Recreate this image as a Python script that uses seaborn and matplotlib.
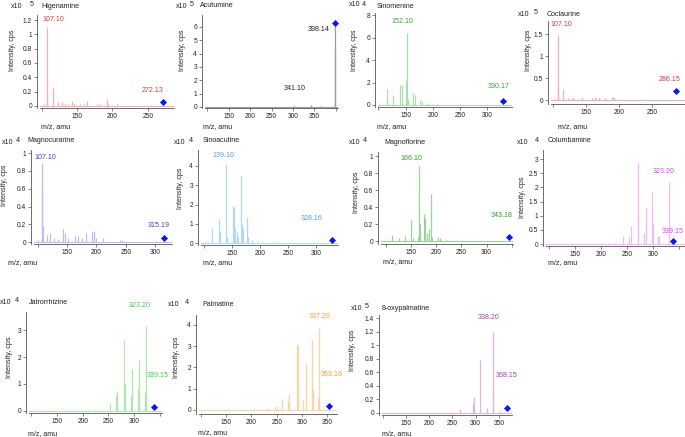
import matplotlib
matplotlib.use('Agg')
import matplotlib.pyplot as plt
import numpy as np
import pandas as pd
import seaborn as sns

sns.set_style('ticks')
plt.rcParams['font.family'] = ['Liberation Sans', 'DejaVu Sans']

W, H = 685, 437

# Peak lists (intensity in units of 10^exp cps)
HIG_MZ = [103, 107.1, 108, 115.6, 123.4, 128, 132.8, 137, 142.2, 145, 154.2, 160, 164.6, 178, 182.5, 192, 194, 206, 230, 255, 272.13]
HIG_INT = [0.02, 1.10, 0.1, 0.25, 0.05, 0.06, 0.03, 0.03, 0.07, 0.03, 0.02, 0.03, 0.07, 0.02, 0.02, 0.09, 0.03, 0.02, 0.01, 0.01, 0.01]
HIG_PREC = (272.13, 0.06)
HIG_LABELS = [107.10, 272.13]

ACU_MZ = [300, 305, 341.1, 363, 367, 380, 397.5, 398.14]
ACU_INT = [0.04, 0.05, 0.18, 0.04, 0.03, 0.03, 4.3, 6.1]
ACU_PREC = (398.14, 6.29)
ACU_LABELS = [398.14, 341.10]

SIN_MZ = [101, 115, 127.4, 139.7, 142.8, 150.2, 152.1, 154.5, 163.7, 167.3, 176.5, 180.2, 188.9, 198.6, 207.3]
SIN_INT = [0.1, 1.4, 0.92, 1.75, 1.8, 2.2, 6.45, 0.5, 1.1, 0.85, 0.4, 0.35, 0.2, 0.1, 0.05]
SIN_PREC = (330.17, 0.38)
SIN_LABELS = [152.10, 330.17]

COC_MZ = [102, 107.1, 108.2, 115.6, 123.2, 128.3, 132.3, 143.4, 158.6, 163.6, 169.6, 178.7, 188.8, 192.3, 204, 236.6]
COC_INT = [0.03, 1.48, 0.28, 0.26, 0.04, 0.05, 0.05, 0.08, 0.05, 0.06, 0.04, 0.05, 0.07, 0.08, 0.03, 0.02]
COC_PREC = (286.15, 0.21)
COC_LABELS = [107.10, 286.15]

MCU_MZ = [101.3, 107.1, 108.1, 109.3, 115.6, 121.2, 128, 135.3, 142.8, 146.7, 152.3, 163.7, 169.3, 175, 182.4, 192.1, 196, 199.4, 211.9, 240.3, 244.2]
MCU_INT = [0.02, 0.89, 0.6, 0.18, 0.08, 0.1, 0.05, 0.04, 0.15, 0.1, 0.05, 0.07, 0.07, 0.05, 0.1, 0.11, 0.13, 0.05, 0.05, 0.03, 0.02]
MCU_PREC = (315.19, 0.05)
MCU_LABELS = [107.10, 315.19]

SAC_MZ = [101.6, 114.6, 126.6, 128.4, 139.1, 141.4, 151.1, 152.9, 155.2, 158.3, 161.1, 165.4, 167.2, 169, 176.2, 179, 185.1, 195.1, 204.8, 223.7]
SAC_INT = [0.05, 0.8, 1.25, 0.6, 4.05, 0.3, 1.9, 1.85, 0.8, 0.6, 0.3, 3.5, 1.0, 0.75, 1.35, 0.3, 0.15, 0.08, 0.05, 0.03]
SAC_PREC = (328.16, 0.16)
SAC_LABELS = [139.10, 328.16]

MFL_MZ = [112, 127, 138.6, 150.5, 153.8, 163.7, 166.1, 168.3, 176.2, 178.2, 181.6, 186.7, 189.5, 192.7, 204.6, 208, 221]
MFL_INT = [0.07, 0.04, 0.06, 0.25, 0.04, 0.05, 0.88, 0.2, 0.32, 0.28, 0.1, 0.15, 0.56, 0.05, 0.05, 0.04, 0.02]
MFL_PREC = (343.18, 0.056)
MFL_LABELS = [166.10, 343.18]

COL_MZ = [214, 226.9, 242.9, 254.4, 257.7, 270.5, 271.7, 282.7, 285.9, 297.5, 299.4, 310.2, 312.1, 330.7]
COL_INT = [0.05, 0.05, 0.3, 0.25, 0.65, 1.0, 2.85, 0.4, 1.3, 1.85, 0.7, 0.3, 0.3, 2.2]
COL_PREC = (339.15, 0.107)
COL_LABELS = [323.20, 339.15]

JAT_MZ = [209.7, 223.9, 236.9, 253.1, 264.8, 267.3, 280.9, 282.9, 293.9, 296.5, 307, 308.9, 321.5, 323.2]
JAT_INT = [0.03, 0.05, 0.05, 0.3, 0.6, 0.7, 2.65, 1.0, 0.6, 1.55, 0.8, 1.9, 0.7, 3.15]
JAT_PREC = (339.15, 0.155)
JAT_LABELS = [323.20, 339.15]

PAL_MZ = [197.3, 220.4, 233.4, 246.6, 249.9, 261, 272.8, 274.2, 290.6, 292.6, 302.4, 307.1, 319, 321, 332, 334]
PAL_INT = [0.03, 0.03, 0.1, 0.15, 0.18, 0.5, 0.4, 0.75, 3.1, 3.0, 0.45, 2.2, 3.3, 1.0, 0.6, 3.85]
PAL_PREC = (353.16, 0.19)
PAL_LABELS = [337.20, 353.16]

OXY_MZ = [248.4, 266.3, 277, 295, 297, 309.3, 323.7, 336.8, 338.2, 352.4]
OXY_INT = [0.02, 0.06, 0.01, 0.15, 0.23, 0.78, 0.08, 0.3, 1.2, 0.03]
OXY_PREC = (368.15, 0.07)
OXY_LABELS = [338.20, 368.15]

NAMES = ['Higenamine', 'Acutumine', 'Sinomenine', 'Coclaurine', 'Magnocurarine',
         'Sinoacutine', 'Magnoflorine', 'Columbamine', 'Jatrorrhizine',
         'Palmatine', '8-oxypalmatine']
EXPONENTS = ['5', '5', '4', '5', '4', '4', '4', '4', '4', '4', '5']

# layout: data box in pixels (l, t, r, b), limits, y ticks, colours, text spots
panels = [
    dict(mz=HIG_MZ, it=HIG_INT, prec=HIG_PREC, lab=HIG_LABELS, lpos=[(116, 1.21), (257, 0.21)],
         box=(40, 15, 174, 108), xlim=(97.6, 287), ylim=(-0.03, 1.27), yt=np.arange(0, 1.21, 0.2),
         line='#f6b0b0', tc='#e8333a', hdr=(11, 6, 29.5, 4.5, 41, 6), xl=(41, 127), yl=(12, 50)),
    dict(mz=ACU_MZ, it=ACU_INT, prec=ACU_PREC, lab=ACU_LABELS, lpos=[(361, 5.78), (305, 1.42)],
         box=(205, 15, 338, 108), xlim=(95, 405), ylim=(-0.08, 6.9), yt=np.arange(0, 6.1, 1),
         line='#9c9c9c', tc='#222222', hdr=(176, 6, 189.5, 4.5, 200, 5.5), xl=(203, 127), yl=(182, 50)),
    dict(mz=SIN_MZ, it=SIN_INT, prec=SIN_PREC, lab=SIN_LABELS, lpos=[(144, 7.42), (322, 1.69)],
         box=(378, 13, 512, 107), xlim=(99.2, 346), ylim=(-0.18, 8.2), yt=np.arange(0, 8.1, 2),
         line='#acdcac', tc='#3a9e3a', hdr=(349, 5, 362, 4, 377, 6), xl=(377, 127), yl=(355, 50)),
    dict(mz=COC_MZ, it=COC_INT, prec=COC_PREC, lab=COC_LABELS, lpos=[(113.2, 1.71), (277, 0.47)],
         box=(551, 21, 685, 104), xlim=(97, 299.7), ylim=(-0.09, 1.8), yt=np.arange(0, 1.51, 0.5),
         line='#e8b0b6', tc='#c8404e', hdr=(518, 15, 534, 13, 547, 14), xl=(558, 127), yl=(528, 50)),
    dict(mz=MCU_MZ, it=MCU_INT, prec=MCU_PREC, lab=MCU_LABELS, lpos=[(114, 0.95), (306.6, 0.185)],
         box=(34, 150, 172, 244), xlim=(94, 328.7), ylim=(-0.02, 1.035), yt=np.arange(0, 1.01, 0.2),
         line='#bcbcf2', tc='#4040d8', hdr=(2, 142, 15.5, 140, 27, 141), xl=(8, 263), yl=(5, 185)),
    dict(mz=SAC_MZ, it=SAC_INT, prec=SAC_PREC, lab=SAC_LABELS, lpos=[(134.3, 4.53), (292.4, 1.25)],
         box=(201, 150, 338, 245), xlim=(94.4, 339.5), ylim=(-0.1, 4.83), yt=np.arange(0, 4.1, 1),
         line='#b0d8f6', tc='#4aa2e6', hdr=(174, 142, 188.5, 141, 203, 141), xl=(203, 263), yl=(180, 188)),
    dict(mz=MFL_MZ, it=MFL_INT, prec=MFL_PREC, lab=MFL_LABELS, lpos=[(151.8, 0.97), (330, 0.30)],
         box=(381, 152, 513, 244), xlim=(91, 352), ylim=(-0.03, 1.05), yt=np.arange(0, 1.01, 0.2),
         line='#98d498', tc='#2e9e2e', hdr=(349, 142, 363, 141, 384, 142), xl=(383, 262), yl=(356, 192)),
    dict(mz=COL_MZ, it=COL_INT, prec=COL_PREC, lab=COL_LABELS, lpos=[(319.8, 2.56), (337, 0.435)],
         box=(546, 150, 685, 246), xlim=(94.2, 361.5), ylim=(-0.07, 3.32), yt=np.arange(0, 3.01, 0.5),
         line='#f4b8f4', tc='#e448e4', hdr=(517, 142, 535, 140, 548, 141), xl=(548, 263), yl=(522, 197)),
    dict(mz=JAT_MZ, it=JAT_INT, prec=JAT_PREC, lab=JAT_LABELS, lpos=[(311.5, 3.94), (345, 1.33)],
         box=(29, 312, 162, 413), xlim=(95.5, 354.3), ylim=(-0.08, 3.68), yt=np.arange(0, 3.1, 1),
         line='#ace8ac', tc='#44d044', hdr=(0, 302, 15, 301, 29, 302), xl=(28, 434), yl=(10, 357)),
    dict(mz=PAL_MZ, it=PAL_INT, prec=PAL_PREC, lab=PAL_LABELS, lpos=[(335.4, 4.39), (358.4, 1.68)],
         box=(199, 315, 337, 414), xlim=(96.7, 368.9), ylim=(-0.19, 4.47), yt=np.arange(0, 4.1, 1),
         line='#fcd4a6', tc='#f4a232', hdr=(168, 304, 185, 303, 202, 304), xl=(198, 433), yl=(176, 357)),
    dict(mz=OXY_MZ, it=OXY_INT, prec=OXY_PREC, lab=OXY_LABELS, lpos=[(327.3, 1.42), (366.8, 0.56)],
         box=(382, 315, 512, 415), xlim=(98.3, 378.2), ylim=(-0.03, 1.45), yt=np.arange(0, 1.41, 0.2),
         line='#dcb4dc', tc='#a0409e', hdr=(351, 309, 365, 307, 382, 308), xl=(382, 434), yl=(352, 350)),
]

fig = plt.figure(figsize=(W / 100, H / 100), dpi=100)
FS = 5.1
TXT = '#222222'


def px_rect(l, t, r, b):
    return [l / W, 1 - b / H, (r - l) / W, (b - t) / H]


def fx(x):
    return x / W


def fy(y):
    return 1 - y / H


for name, expo, p in zip(NAMES, EXPONENTS, panels):
    ax = fig.add_axes(px_rect(*p['box']))
    df = pd.DataFrame({'mz': p['mz'], 'intensity': p['it']})

    # spectrum sticks and baseline
    ax.vlines(df['mz'], 0, df['intensity'], color=p['line'], lw=0.9)
    ax.axhline(0, color=p['line'], lw=0.8)

    # precursor marker
    prec = pd.DataFrame({'mz': [p['prec'][0]], 'intensity': [p['prec'][1]]})
    sns.scatterplot(data=prec, x='mz', y='intensity', marker='D', s=13,
                    color='#0a14ff', linewidth=0, ax=ax, clip_on=False, zorder=5)

    # peak labels
    for val, (lx, ly) in zip(p['lab'], p['lpos']):
        ax.text(lx, ly, f'{val:.2f}', color=p['tc'], fontsize=FS,
                ha='center', va='center', clip_on=False)

    ax.set_xlim(*p['xlim'])
    ax.set_ylim(*p['ylim'])
    xt = np.arange(100, p['xlim'][1] + 0.01, 50)
    ax.set_xticks(xt)
    ax.set_xticklabels(['' if (t == 100 or p['xlim'][1] - t < 15) else f'{t:g}' for t in xt])
    ax.set_yticks(p['yt'])
    ax.set_yticklabels([f'{round(t, 2):g}' for t in p['yt']])
    ax.set_xlabel('')
    ax.set_ylabel('')

    sns.despine(ax=ax)
    ax.spines['left'].set_position(('outward', 2.2))
    for s in ('left', 'bottom'):
        ax.spines[s].set_color('#555555')
        ax.spines[s].set_linewidth(0.6)
    ax.tick_params(axis='both', labelsize=4.8, length=2, width=0.5,
                   colors='#555555', labelcolor=TXT, pad=1.5)

    # header: "x10" + exponent + compound name
    x10x, x10y, ex, ey, tx, ty = p['hdr']
    fig.text(fx(x10x), fy(x10y), 'x10', fontsize=FS, color=TXT, ha='left', va='center')
    fig.text(fx(ex), fy(ey), expo, fontsize=FS, color=TXT, ha='left', va='center')
    fig.text(fx(tx), fy(ty), name, fontsize=FS, color=TXT, ha='left', va='center')

    # axis titles
    fig.text(fx(p['xl'][0]), fy(p['xl'][1]), 'm/z, amu', fontsize=FS, color=TXT,
             ha='left', va='center')
    fig.text(fx(p['yl'][0]), fy(p['yl'][1]), 'Intensity, cps', fontsize=FS, color=TXT,
             ha='center', va='center', rotation=90)

fig.savefig('out.png', dpi=100)
